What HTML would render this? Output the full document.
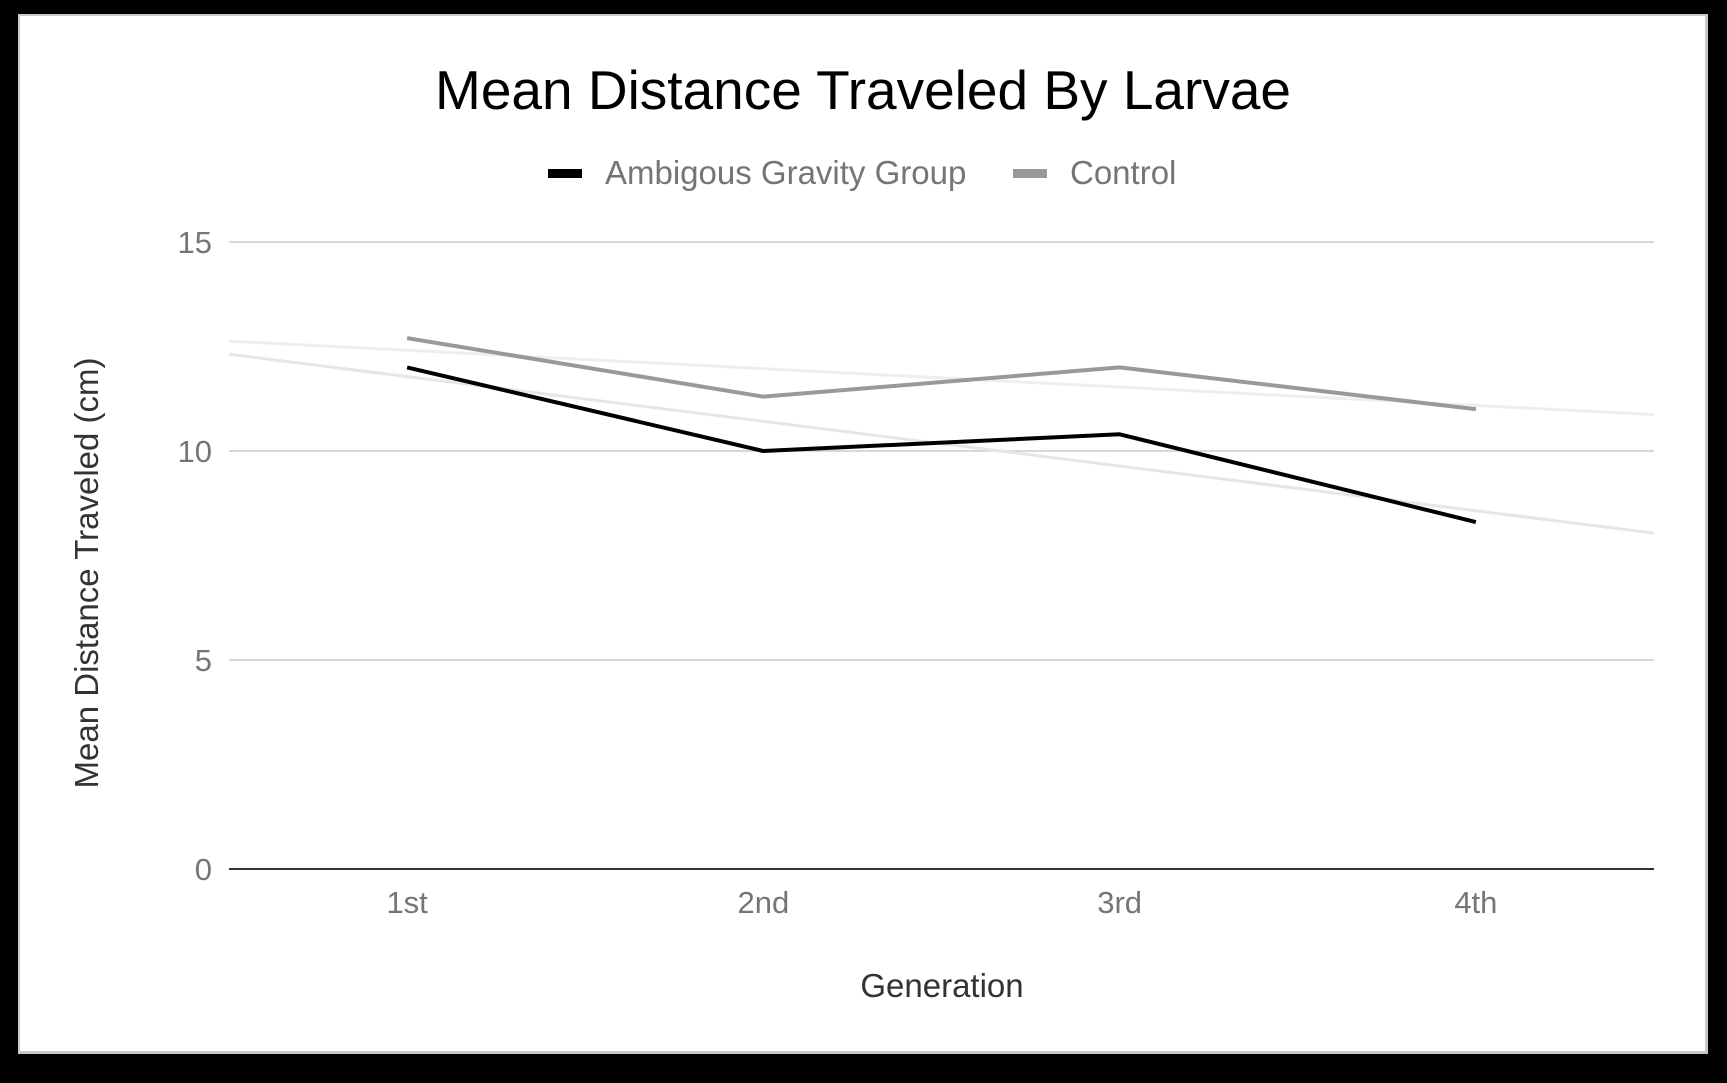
<!DOCTYPE html>
<html><head><meta charset="utf-8"><style>
html,body{margin:0;padding:0;background:#000;width:1727px;height:1083px;overflow:hidden}
svg{display:block;font-family:"Liberation Sans",sans-serif}
</style></head><body>
<svg width="1727" height="1083">
<rect x="0" y="0" width="1727" height="1083" fill="#000"/>
<rect x="18" y="14" width="1690" height="1040" fill="#c8c8c8"/>
<rect x="20" y="16" width="1685" height="1035" fill="#fff"/>
<text x="863" y="109" text-anchor="middle" font-size="55" fill="#000">Mean Distance Traveled By Larvae</text>
<g>
<rect x="548" y="169" width="34" height="9" fill="#000"/>
<text x="605" y="184" font-size="33" fill="#757575">Ambigous Gravity Group</text>
<rect x="1013" y="169" width="34" height="9" fill="#999"/>
<text x="1070" y="184" font-size="33" fill="#757575">Control</text>
</g>
<g id="grid"></g><g id="marks"></g><g id="labels"></g>
<text x="942" y="997" text-anchor="middle" font-size="33" fill="#333">Generation</text>
<text transform="translate(98,573) rotate(-90)" text-anchor="middle" font-size="33" fill="#333">Mean Distance Traveled (cm)</text>
</svg>
<script>
const categories=["1st","2nd","3rd","4th"];
const ambiguous=[12,10,10.4,8.3];
const control=[12.7,11.3,12.0,11.0];
const yTicks=[0,5,10,15];
const L=229,R=1654,T=242,B=869,yMax=15;
const bw=(R-L)/categories.length;
const xs=i=>L+bw*(i+0.5);
const ys=v=>B-(v/yMax)*(B-T);
const NS="http://www.w3.org/2000/svg";
function mk(tag,attrs,parent){const e=document.createElementNS(NS,tag);for(const k in attrs)e.setAttribute(k,attrs[k]);document.getElementById(parent).appendChild(e);return e;}
yTicks.forEach(t=>{
  const g=mk('line',{x1:L,x2:R,y1:ys(t),y2:ys(t),stroke:t===0?'#333':'#ccc','stroke-width':t===0?2:1.5},'grid');
  
  
  const tx=mk('text',{x:212,y:ys(t)+11,'text-anchor':'end','font-size':31,fill:'#757575'},'labels');
  tx.textContent=t;
  
  
});
categories.forEach((c,i)=>{
  const tx=mk('text',{x:xs(i),y:913,'text-anchor':'middle','font-size':31,fill:'#757575'},'labels');
  tx.textContent=c;
  
  
});
function trend(vals,name,color){
  const n=vals.length,mx=(n-1)/2,my=vals.reduce((a,b)=>a+b,0)/n;
  let num=0,den=0;vals.forEach((v,i)=>{num+=(i-mx)*(v-my);den+=(i-mx)*(i-mx);});
  const s=num/den,x0=-0.5,x1=n-0.5;
  const ln=mk('line',{x1:L,y1:ys(my+s*(x0-mx)),x2:R,y2:ys(my+s*(x1-mx)),stroke:color,'stroke-width':3},'marks');
  
  
}
trend(ambiguous,'trendline-ambiguous','#e6e6e6');
trend(control,'trendline-control','#eeeeee');
function series(vals,name,color){
  const p=mk('polyline',{points:vals.map((v,i)=>xs(i)+','+ys(v)).join(' '),fill:'none',stroke:color,'stroke-width':4,'stroke-linejoin':'round'},'marks');
  
  
}
series(control,'line-control','#999');
series(ambiguous,'line-ambiguous','#000');
</script>
</body></html>
